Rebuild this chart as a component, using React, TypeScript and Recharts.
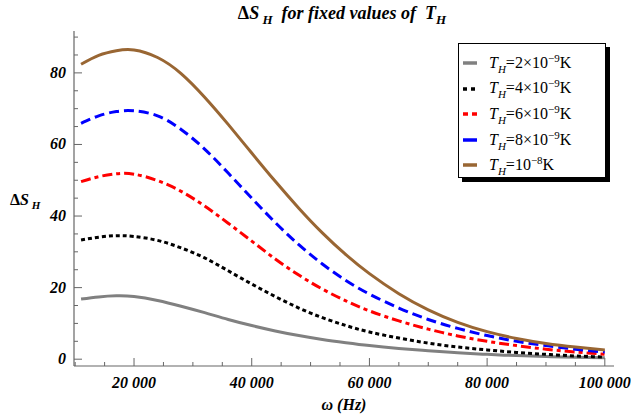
import React from "react";
import { LineChart, Line, XAxis, YAxis } from "recharts";

const omega = [11000, 14000, 17000, 20000, 24000, 28000, 32000, 36000, 40000, 44000, 48000, 52000, 56000, 60000, 65000, 70000, 75000, 80000, 85000, 90000, 95000, 100000];
const sGray = [16.8, 17.4, 17.7, 17.5, 16.4, 14.8, 13.0, 11.1, 9.4, 7.9, 6.6, 5.5, 4.6, 3.8, 3.0, 2.35, 1.8, 1.35, 1.0, 0.75, 0.55, 0.4];
const sBlack = [33.3, 34.1, 34.5, 34.3, 33.2, 31.1, 28.3, 24.7, 21.0, 17.5, 14.3, 11.6, 9.4, 7.6, 5.9, 4.5, 3.4, 2.6, 1.9, 1.35, 0.9, 0.6];
const sRed = [49.6, 51.0, 51.8, 51.7, 49.9, 46.9, 42.8, 38.0, 33.0, 28.0, 23.5, 19.6, 16.3, 13.5, 10.7, 8.4, 6.5, 5.0, 3.8, 2.8, 2.0, 1.4];
const sBlue = [65.9, 68.0, 69.2, 69.4, 68.0, 64.2, 58.7, 52.0, 45.0, 38.2, 32.0, 26.6, 22.0, 18.2, 14.3, 11.1, 8.6, 6.6, 5.0, 3.8, 2.8, 2.0];
const sBrown = [82.4, 84.9, 86.2, 86.4, 84.3, 79.8, 73.2, 65.6, 57.6, 49.7, 42.2, 35.3, 29.2, 23.9, 18.3, 13.8, 10.3, 7.7, 5.8, 4.4, 3.4, 2.6];

const xTicks = [10000, 15000, 20000, 25000, 30000, 35000, 40000, 45000, 50000, 55000, 60000, 65000, 70000, 75000, 80000, 85000, 90000, 95000, 100000];
const xMajor = [20000, 40000, 60000, 80000, 100000];
const xLabels = ["20 000", "40 000", "60 000", "80 000", "100 000"];
const yTicks = [0, 5, 10, 15, 20, 25, 30, 35, 40, 45, 50, 55, 60, 65, 70, 75, 80, 85, 90];
const yMajor = [0, 20, 40, 60, 80];
const yLabels = ["0", "20", "40", "60", "80"];

const legendItems = [
  { mant: "2×10", exp: "−9", color: "#808080", dash: "" },
  { mant: "4×10", exp: "−9", color: "#000000", dash: "4 4" },
  { mant: "6×10", exp: "−9", color: "#ff0000", dash: "5 4" },
  { mant: "8×10", exp: "−9", color: "#0000ff", dash: "" },
  { mant: "10", exp: "−8", color: "#996633", dash: "" },
];

const data = omega.map((w, i) => ({
  w,
  g: sGray[i],
  k: sBlack[i],
  r: sRed[i],
  b: sBlue[i],
  n: sBrown[i],
}));

const FRAME = "#666666";
const SERIF = "Liberation Serif, DejaVu Serif, serif";

const BottomTick = (props: any) => {
  const { x, y, payload } = props;
  const idx = xMajor.indexOf(payload.value);
  const major = idx >= 0;
  return (
    <g>
      <line x1={x} y1={y} x2={x} y2={y - (major ? 8 : 4)} stroke={FRAME} strokeWidth={1} />
      {major && (
        <text x={x} y={y + 22} textAnchor="middle" style={{ fontFamily: SERIF }} fontWeight="bold" fontStyle="italic" fontSize={16} fill="#000">
          {xLabels[idx]}
        </text>
      )}
    </g>
  );
};

const TopTick = (props: any) => {
  const { x, y, payload } = props;
  const major = xMajor.indexOf(payload.value) >= 0;
  return <line x1={x} y1={y} x2={x} y2={y + (major ? 8 : 4)} stroke={FRAME} strokeWidth={1} />;
};

const LeftTick = (props: any) => {
  const { x, y, payload } = props;
  const idx = yMajor.indexOf(payload.value);
  const major = idx >= 0;
  return (
    <g>
      <line x1={x} y1={y} x2={x + (major ? 8 : 4)} y2={y} stroke={FRAME} strokeWidth={1} />
      {major && (
        <text x={x - 8} y={y + 5} textAnchor="end" style={{ fontFamily: SERIF }} fontWeight="bold" fontStyle="italic" fontSize={16} fill="#000">
          {yLabels[idx]}
        </text>
      )}
    </g>
  );
};

const RightTick = (props: any) => {
  const { x, y, payload } = props;
  const major = yMajor.indexOf(payload.value) >= 0;
  return <line x1={x} y1={y} x2={x - (major ? 8 : 4)} y2={y} stroke={FRAME} strokeWidth={1} />;
};

export default function App() {
  return (
    <div style={{ position: "absolute", left: 0, top: 0, width: 631, height: 418, background: "#fff", fontFamily: SERIF }}>
      <LineChart width={631} height={418} data={data} margin={{ top: 31, right: 17, left: 0, bottom: 0 }}>
        <XAxis
          xAxisId="b"
          dataKey="w"
          type="number"
          domain={[9800, 101560]}
          allowDataOverflow
          ticks={xTicks}
          interval={0}
          tickSize={0}
          tickMargin={0}
          tickLine={false}
          tick={<BottomTick />}
          axisLine={{ stroke: FRAME, strokeWidth: 1.2 }}
          height={52}
          orientation="bottom"
        />
        <XAxis
          xAxisId="t"
          dataKey="w"
          type="number"
          domain={[9800, 101560]}
          allowDataOverflow
          ticks={xTicks}
          interval={0}
          tickSize={0}
          tickMargin={0}
          tickLine={false}
          tick={<TopTick />}
          axisLine={{ stroke: FRAME, strokeWidth: 1.2 }}
          height={0}
          orientation="top"
        />
        <YAxis
          yAxisId="l"
          type="number"
          domain={[-1.9, 91.7]}
          allowDataOverflow
          ticks={yTicks}
          interval={0}
          tickSize={0}
          tickMargin={0}
          tickLine={false}
          tick={<LeftTick />}
          axisLine={{ stroke: FRAME, strokeWidth: 1.2 }}
          width={74}
          orientation="left"
        />
        <YAxis
          yAxisId="r"
          type="number"
          domain={[-1.9, 91.7]}
          allowDataOverflow
          ticks={yTicks}
          interval={0}
          tickSize={0}
          tickMargin={0}
          tickLine={false}
          tick={<RightTick />}
          axisLine={{ stroke: FRAME, strokeWidth: 1.2 }}
          width={0}
          orientation="right"
        />
        <Line xAxisId="b" yAxisId="l" type="natural" dataKey="g" stroke="#808080" strokeWidth={3} dot={false} isAnimationActive={false} />
        <Line xAxisId="b" yAxisId="l" type="natural" dataKey="k" stroke="#000000" strokeWidth={3} strokeDasharray="4 3" dot={false} isAnimationActive={false} />
        <Line xAxisId="b" yAxisId="l" type="natural" dataKey="r" stroke="#ff0000" strokeWidth={3} strokeDasharray="10 4 4 4" dot={false} isAnimationActive={false} />
        <Line xAxisId="b" yAxisId="l" type="natural" dataKey="b" stroke="#0000ff" strokeWidth={3} strokeDasharray="10 5" dot={false} isAnimationActive={false} />
        <Line xAxisId="b" yAxisId="l" type="natural" dataKey="n" stroke="#996633" strokeWidth={3} dot={false} isAnimationActive={false} />
      </LineChart>

      {/* Title */}
      <div style={{ position: "absolute", left: 0, width: 684, top: 3, textAlign: "center", fontSize: 18, fontWeight: "bold", fontStyle: "italic", whiteSpace: "nowrap" }}>
        <span style={{ fontStyle: "normal" }}>Δ</span>S<sub style={{ fontSize: 13 }}>&nbsp;H</sub>&nbsp; for fixed values of&nbsp; T<sub style={{ fontSize: 13 }}>H</sub>
      </div>

      {/* Y label */}
      <div style={{ position: "absolute", left: 10, top: 191, fontSize: 16, fontWeight: "bold", fontStyle: "italic", whiteSpace: "nowrap" }}>
        <span style={{ fontStyle: "normal" }}>Δ</span>S<sub style={{ fontSize: 11 }}>&nbsp;H</sub>
      </div>

      {/* X label */}
      <div style={{ position: "absolute", left: 244, width: 200, top: 396, textAlign: "center", fontSize: 16, fontWeight: "bold", fontStyle: "italic", whiteSpace: "nowrap" }}>
        ω (Hz)
      </div>

      {/* Legend */}
      <div style={{ position: "absolute", left: 458, top: 43, width: 146, height: 133, border: "1px solid #000", background: "#fff", boxShadow: "4px 4px 0 #000" }}>
        {legendItems.map((it, i) => (
          <div key={i} style={{ position: "absolute", left: 3, top: 8 + i * 25.6, height: 22, display: "flex", alignItems: "center", whiteSpace: "nowrap" }}>
            <svg width={16} height={6} style={{ marginRight: 11 }}>
              <line x1={1} y1={3} x2={15} y2={3} stroke={it.color} strokeWidth={3.5} strokeDasharray={it.dash || undefined} />
            </svg>
            <span style={{ fontSize: 16, color: "#000" }}>
              <i>T</i>
              <sub style={{ fontSize: 11 }}><i>H</i></sub>={it.mant}
              <sup style={{ fontSize: 11 }}>{it.exp}</sup>K
            </span>
          </div>
        ))}
      </div>
    </div>
  );
}
